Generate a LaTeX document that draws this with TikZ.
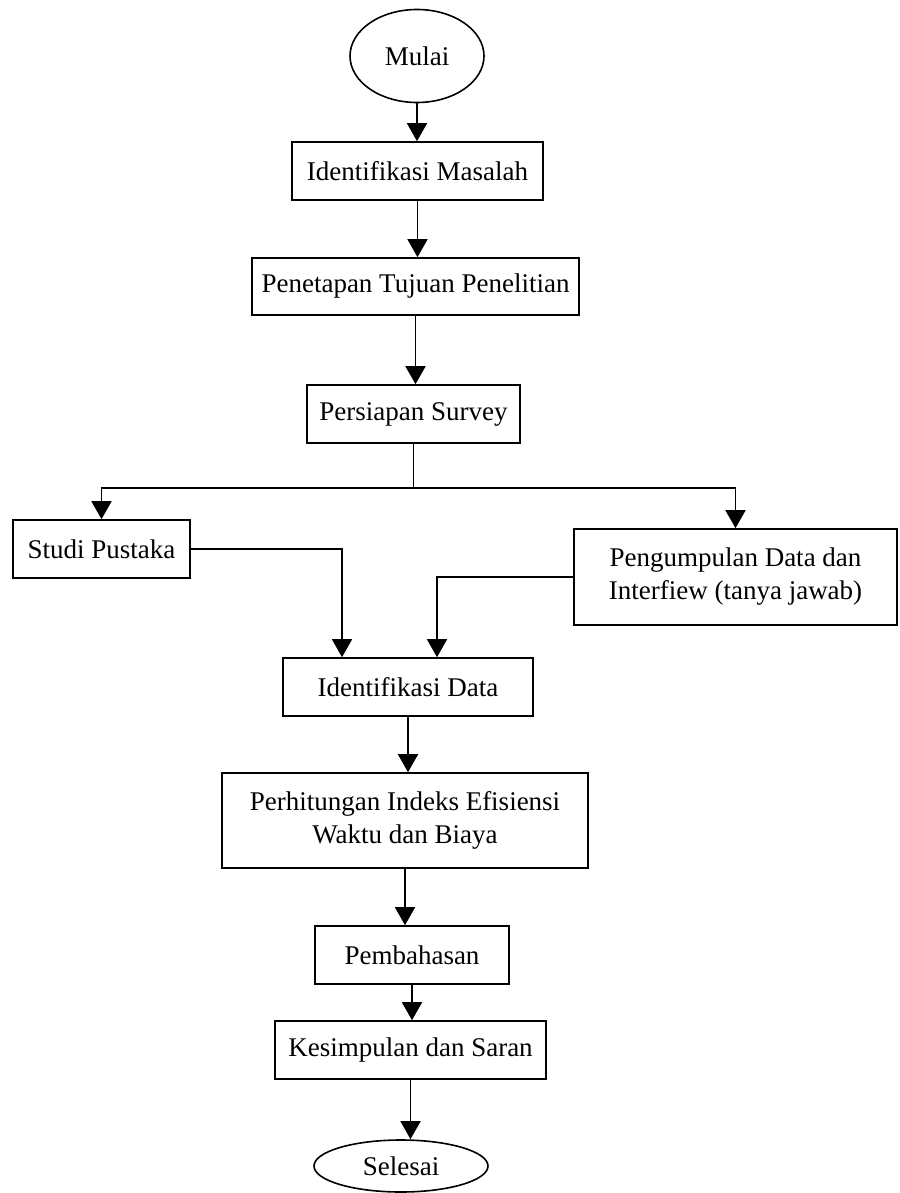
\documentclass[tikz,border=0pt]{standalone}
\usepackage{fontspec}
\setmainfont{Liberation Serif}
\usetikzlibrary{shapes.geometric, arrows.meta}
\tikzset{
  >={Triangle[width=10pt,length=9pt]},
  x=0.5pt, y=-0.5pt,
  every node/.style={font=\fontsize{13.5}{16.5}\selectfont, line width=0.8pt},
  box/.style={draw, rectangle, inner sep=0pt, align=center},
  terminal/.style={draw, ellipse, inner sep=0pt},
}

\begin{document}
\begin{tikzpicture}[line width=0.8pt]
      \useasboundingbox (0,0) rectangle (899,1193);

      \node[terminal, minimum width=67pt, minimum height=46.5pt] (mulai) at (417,56) {Mulai};
      \node[box, minimum width=125.5pt, minimum height=29pt] (masalah) at (417.5,171) {Identifikasi Masalah};
      \node[box, minimum width=163.5pt, minimum height=28.5pt] (tujuan) at (415.5,286.5) {Penetapan Tujuan Penelitian};
      \node[box, minimum width=106.5pt, minimum height=29pt] (survey) at (413.5,414) {Persiapan Survey};
      \node[box, minimum width=88.5pt, minimum height=29pt] (pustaka) at (101.5,549) {Studi Pustaka};
      \node[box, minimum width=161.5pt, minimum height=48pt] (kumpul) at (735.5,577) {Pengumpulan Data dan\\Interfiew (tanya jawab)};
      \node[box, minimum width=125pt, minimum height=29pt] (idata) at (408,687) {Identifikasi Data};
      \node[box, minimum width=183pt, minimum height=47.5pt] (hitung) at (405,820.5) {Perhitungan Indeks Efisiensi\\Waktu dan Biaya};
      \node[box, minimum width=97pt, minimum height=29pt] (bahas) at (412,955) {Pembahasan};
      \node[box, minimum width=135.5pt, minimum height=29pt] (simpul) at (410.5,1050) {Kesimpulan dan Saran};
      \node[terminal, minimum width=87pt, minimum height=26pt] (selesai) at (401,1166) {Selesai};

      \draw[->] (mulai) -- (mulai |- masalah.north);
      \draw[->] (masalah) -- (masalah |- tujuan.north);
      \draw[->] (tujuan) -- (tujuan |- survey.north);
      \draw (survey.south) -- ++(0,44) coordinate (split);
      \draw[->] (split) -| (pustaka);
      \draw[->] (split) -| (kumpul);
      \draw[->] (pustaka.east) -| ([xshift=-33pt]idata.north);
      \draw[->] (kumpul.west) -| ([xshift=14.5pt]idata.north);
      \draw[->] (idata) -- (idata |- hitung.north);
      \draw[->] (hitung) -- (hitung |- bahas.north);
      \draw[->] (bahas) -- (bahas |- simpul.north);
      \draw[->] (simpul) -- (simpul |- selesai.north);
\end{tikzpicture}
\end{document}
